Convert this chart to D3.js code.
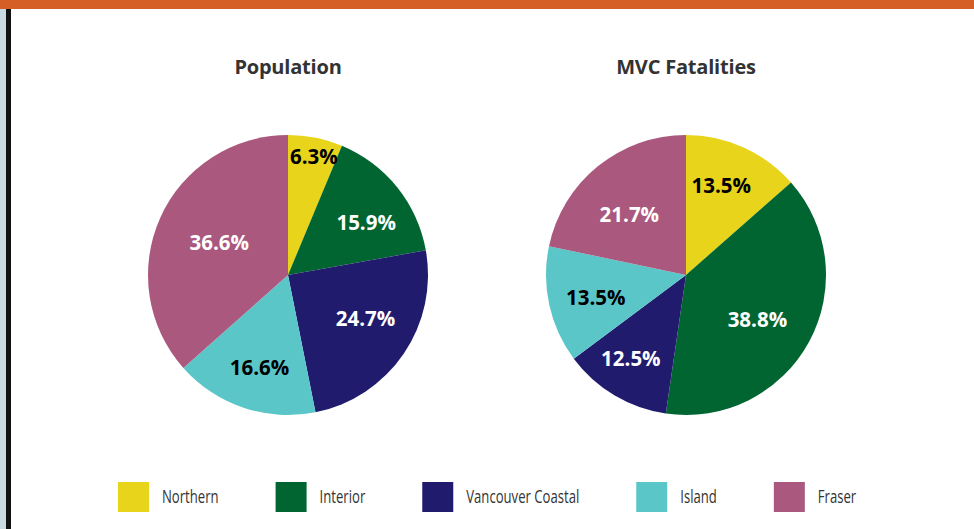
<!DOCTYPE html>
<html><head><meta charset="utf-8">
<script src="https://cdn.jsdelivr.net/npm/d3@7"></script>
<style>html,body{margin:0;padding:0;background:#fff;}svg{display:block;}</style>
</head><body>
<svg id="c" width="974" height="529"></svg>
<script>
const categories = ["Northern", "Interior", "Vancouver Coastal", "Island", "Fraser"];
const populationValues = [6.3, 15.9, 24.7, 16.6, 36.6];
const fatalityValues = [13.5, 38.8, 12.5, 13.5, 21.7];
const chartTitles = ["Population", "MVC Fatalities"];
const colors = ["#E8D41A", "#006531", "#211B6E", "#5BC6C8", "#AA587D"];
const labelColors = ["#000", "#fff", "#fff", "#000", "#fff"];
// label placement per slice (style): radius and angular nudge in degrees
const labelRadii = [[121, 94, 89, 97, 76], [96, 84, 100, 93, 83]];
const labelNudge = [[1, 5, -4.7, -1.4, 1], [-2.8, 3.4, 2.7, -1.6, -4]];

const svg = d3.select("#c");
// frame decorations
svg.append("rect").attr("x", 0).attr("y", 0).attr("width", 6).attr("height", 529).attr("fill", "#C8DAE2");
svg.append("rect").attr("x", 6).attr("y", 0).attr("width", 5).attr("height", 529).attr("fill", "#111");
svg.append("rect").attr("x", 0).attr("y", 0).attr("width", 974).attr("height", 9).attr("fill", "#D55E27");

const R = 140;
const centers = [[288, 275], [686, 275]];
const datasets = [populationValues, fatalityValues];
const pie = d3.pie().sort(null).value(d => d);
const arc = d3.arc().innerRadius(0).outerRadius(R);

datasets.forEach((vals, i) => {
  const g = svg.append("g").attr("transform", `translate(${centers[i][0]},${centers[i][1]})`);
  const arcs = pie(vals);
  g.selectAll("path").data(arcs).enter().append("path")
    .attr("d", arc).attr("fill", (d, j) => colors[j]);
  g.selectAll("text.lbl").data(arcs).enter().append("text")
    .attr("class", "lbl")
    .attr("transform", (d, j) => {
      const a = (d.startAngle + d.endAngle) / 2 + labelNudge[i][j] * Math.PI / 180;
      const r = labelRadii[i][j];
      return `translate(${r * Math.sin(a)},${-r * Math.cos(a)})`;
    })
    .attr("text-anchor", "middle").attr("dy", "0.36em")
    .attr("font-family", "'Open Sans', sans-serif").attr("font-weight", "bold")
    .attr("font-size", 20.5)
    .attr("fill", (d, j) => labelColors[j])
    .text(d => d.data.toFixed(1) + "%");
  svg.append("text").attr("x", centers[i][0]).attr("y", 74)
    .attr("text-anchor", "middle")
    .attr("font-family", "'Open Sans', sans-serif").attr("font-weight", "bold")
    .attr("font-size", 20).attr("fill", "#333").attr("letter-spacing", -0.2)
    .text(chartTitles[i]);
});

// legend
const lg = svg.append("g");
const sx = 0.75;
let x = 118;
categories.forEach((c, j) => {
  lg.append("rect").attr("x", x).attr("y", 482).attr("width", 31).attr("height", 30).attr("fill", colors[j]);
  const tg = lg.append("g").attr("transform", `translate(${x + 44},497) scale(${sx},1)`);
  const t = tg.append("text").attr("x", 0).attr("y", 0).attr("dy", "0.35em")
    .attr("font-family", "'Open Sans', sans-serif")
    .attr("font-size", 17.5).attr("fill", "#333").text(c);
  const w = t.node().getComputedTextLength() * sx;
  x = x + 44 + w + 57;
});
</script>
</body></html>
